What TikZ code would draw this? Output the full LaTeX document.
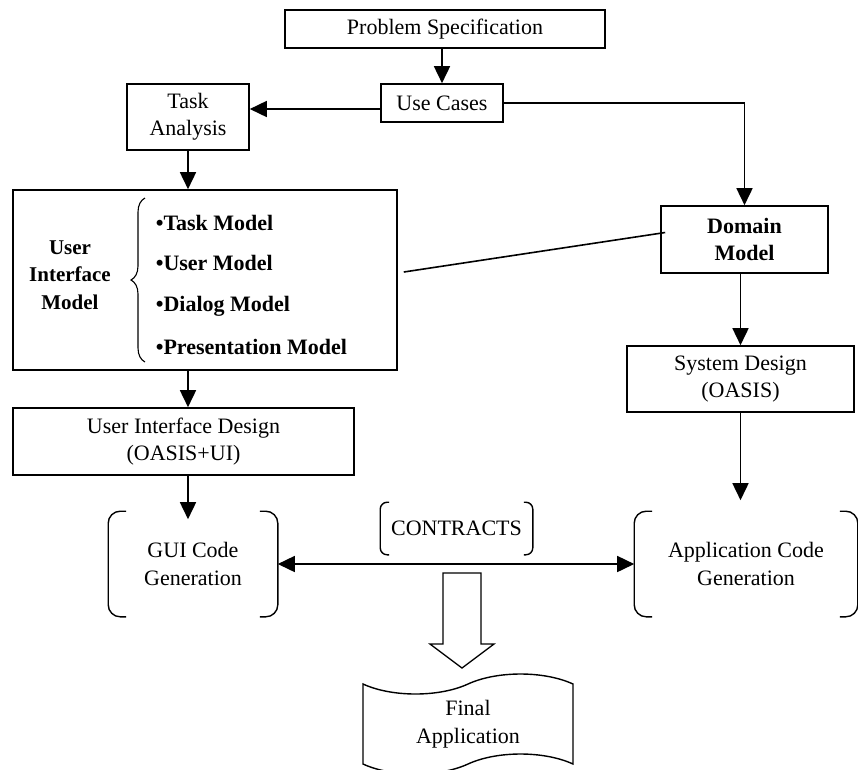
\documentclass[tikz,border=0pt]{standalone}
\usepackage{fontspec}
\setmainfont{Liberation Serif}
\usetikzlibrary{positioning, arrows.meta, shapes.symbols, decorations.pathreplacing, calc}

\tikzset{
  block/.style={draw, line width=1.6pt, inner sep=2pt, font=\fontsize{22}{27}\selectfont, align=center},
  codegen/.style={inner sep=0pt, font=\fontsize{22}{28}\selectfont, align=center},
  >={Triangle[length=17pt,width=16pt]}
}

% brackets round a node: node, serif length, corner radius
\newcommand{\brk}[3]{%
  \draw[line width=1.4pt, rounded corners=#3]
    ([xshift=#2]#1.north west) -- (#1.north west) -- (#1.south west) -- ([xshift=#2]#1.south west)
    ([xshift=-#2]#1.north east) -- (#1.north east) -- (#1.south east) -- ([xshift=-#2]#1.south east);
}

\begin{document}
\begin{tikzpicture}[x=1pt, y=-1pt, line width=1.6pt]
    \useasboundingbox (0,0) rectangle (858,769);

    \node[block, minimum width=320pt, minimum height=38pt] (spec) at (445,29) {Problem Specification};
    \node[block, minimum width=122pt, minimum height=38pt] (uc) at (442,103) {Use Cases};
    \node[block, minimum width=122pt, minimum height=66pt] (ta) at (188,117) {Task\\Analysis};

    \node[block, minimum width=384pt, minimum height=180pt] (uim) at (205,280) {};
    \node[font=\bfseries\fontsize{21}{27.5}\selectfont, align=center] (uil) at (70,275) {User\\Interface\\Model};
    \draw[line width=1.1pt, decorate, decoration={brace, amplitude=14pt}] (145,362) -- (145,198);
    \foreach \y/\t [count=\i] in {223/Task Model, 263/User Model, 306/Dialog Model, 347/Presentation Model}
        \node[anchor=west, inner sep=0pt, font=\bfseries\fontsize{22}{27}\selectfont] (m\i) at (155,\y) {•\t};

    \node[block, font=\bfseries\fontsize{22}{27}\selectfont, minimum width=167pt, minimum height=67pt] (dm) at (744.5,239.5) {Domain\\Model};
    \node[block, minimum width=227pt, minimum height=66pt] (sd) at (740.5,379) {System Design\\(OASIS)};
    \node[block, minimum width=341pt, minimum height=67pt] (uid) at (183.5,441.5) {User Interface Design\\(OASIS+UI)};

    \node[codegen, minimum width=168pt, minimum height=104pt] (gui) at (193,564) {GUI Code\\Generation};
    \node[codegen, minimum width=222pt, minimum height=104pt] (acg) at (746,564) {Application Code\\Generation};
    \node[codegen, minimum width=151pt, minimum height=51pt] (con) at (456.5,528.5) {CONTRACTS};
    \brk{gui}{18pt}{12pt}
    \brk{acg}{18pt}{12pt}
    \brk{con}{9pt}{7pt}

    \node[codegen, draw, line width=1.4pt, tape, tape bend top=in and out, tape bend bottom=in and out,
          tape bend height=20pt, minimum width=210pt, minimum height=100pt] (fin) at (468,724) {Final\\Application};

    \draw[->] (uc.north |- spec.south) -- (uc.north);
    \draw[->] ([yshift=-6pt]uc.west) -- ([yshift=-6pt]uc.west -| ta.east);
    \draw[->] (uc.east) -| (dm.north);
    \draw[->] (ta.south) -- (ta.south |- uim.north);
    \draw ([xshift=6pt,yshift=8pt]uim.east) -- ([xshift=5pt,yshift=7pt]dm.west);
    \draw[->] (ta.south |- uim.south) -- (ta.south |- uid.north);
    \draw[->] (ta.south |- uid.south) -- ($(ta.south |- gui.north)+(0,8)$);
    \draw[->] (dm.south -| sd.north) -- (sd.north);
    \draw[->] (sd.south) -- ($(sd.south |- acg.north)+(0,-11)$);
    \draw[<->] (gui.east) -- (acg.west);

    % hollow arrow down to the final application
    \coordinate (fat) at (462,573);
    \draw[line width=1.3pt, fill=white] ($(fat)+(-19,0)$) -- ++(0,71) -- ++(-13,0) -- ++(32,24)
        -- ++(32,-24) -- ++(-13,0) -- ++(0,-71) -- cycle;
\end{tikzpicture}
\end{document}
